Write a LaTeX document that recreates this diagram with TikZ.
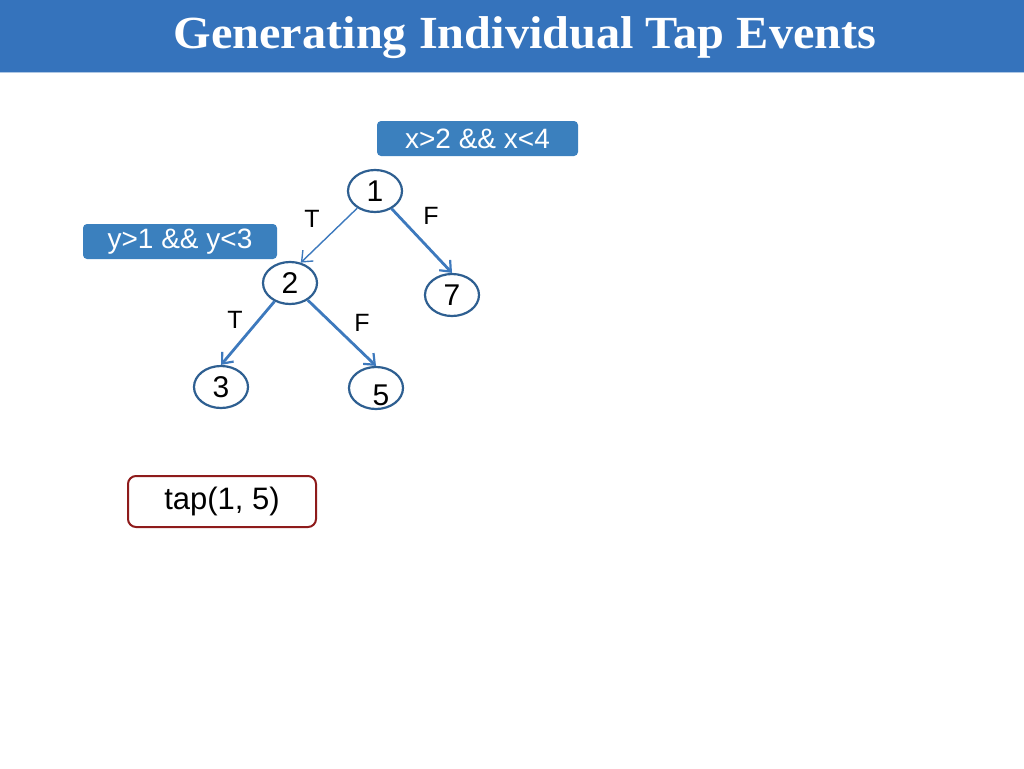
\documentclass[tikz,border=0pt]{standalone}
\usepackage{fontspec}
\setmainfont{Liberation Sans}
\newfontfamily\titlefont[FakeStretch=1.05]{Liberation Serif}
\usetikzlibrary{arrows.meta,shapes.geometric}
\definecolor{hdr}{HTML}{3573BC}
\definecolor{condbox}{HTML}{3B80BE}
\definecolor{circ}{HTML}{2E5F91}
\definecolor{edge}{HTML}{3D79BD}
\definecolor{tapred}{HTML}{8E1B1B}
\tikzset{
  cond/.style={fill=condbox, rounded corners=4pt, minimum height=35pt, text=white, font=\fontsize{28}{32}\selectfont, inner sep=0pt},
  vert/.style={draw=circ, line width=2.2pt, ellipse, minimum width=54pt, minimum height=42pt, inner sep=0pt, font=\fontsize{30}{34}\selectfont},
  edg/.style={draw=edge, line width=2.8pt, -{Straight Barb[length=9pt,width=15pt,line width=2.2pt]}},
  thin edg/.style={draw=edge, line width=1.4pt, -{Straight Barb[length=9pt,width=15pt,line width=1.4pt]}},
  lbl/.style={font=\fontsize{25}{29}\selectfont, inner sep=0pt},
}
\begin{document}
\begin{tikzpicture}[x=1pt,y=-1pt]
\useasboundingbox (0,0) rectangle (1024,768);
\fill[hdr] (0,0) rectangle (1024,72);
\draw[hdr!40, line width=1pt] (0,72.5) -- (1024,72.5);
\node[text=white, font=\titlefont\bfseries\fontsize{46}{50}\selectfont, inner sep=0pt] (title) at (525,38) {Generating Individual Tap Events};

\node[cond, minimum width=201pt] (c1) at (477.5,138.5) {x>2 \&\& x<4};
\node[cond, minimum width=194pt] (c2) at (180,241.5) {y>1 \&\& y<3};

\node[vert] (n1) at (375,191) {1};
\node[vert] (n2) at (290,283) {2};
\node[vert] (n7) at (452,295) {7};
\node[vert] (n3) at (221,387) {3};
\node[vert] (n5) at (376,388) {};
\node[font=\fontsize{30}{34}\selectfont, inner sep=0pt] (t5) at (381,395) {5};

\draw[thin edg] (n1) -- (n2.62);
\draw[edg] (n1) -- (n7.north);
\draw[edg] (n2) -- (n3.north);
\draw[edg] (n2) -- (n5.north);

\node[lbl] (lT1) at (312,219) {T};
\node[lbl] (lF1) at (431,216) {F};
\node[lbl] (lT2) at (235,320) {T};
\node[lbl] (lF2) at (362,323) {F};

\node[draw=tapred, line width=2pt, rounded corners=8pt, minimum width=188pt, minimum height=51pt, inner sep=0pt, font=\fontsize{31}{35}\selectfont] (tap) at (222,501.5) {tap(1, 5)};
\end{tikzpicture}
\end{document}
